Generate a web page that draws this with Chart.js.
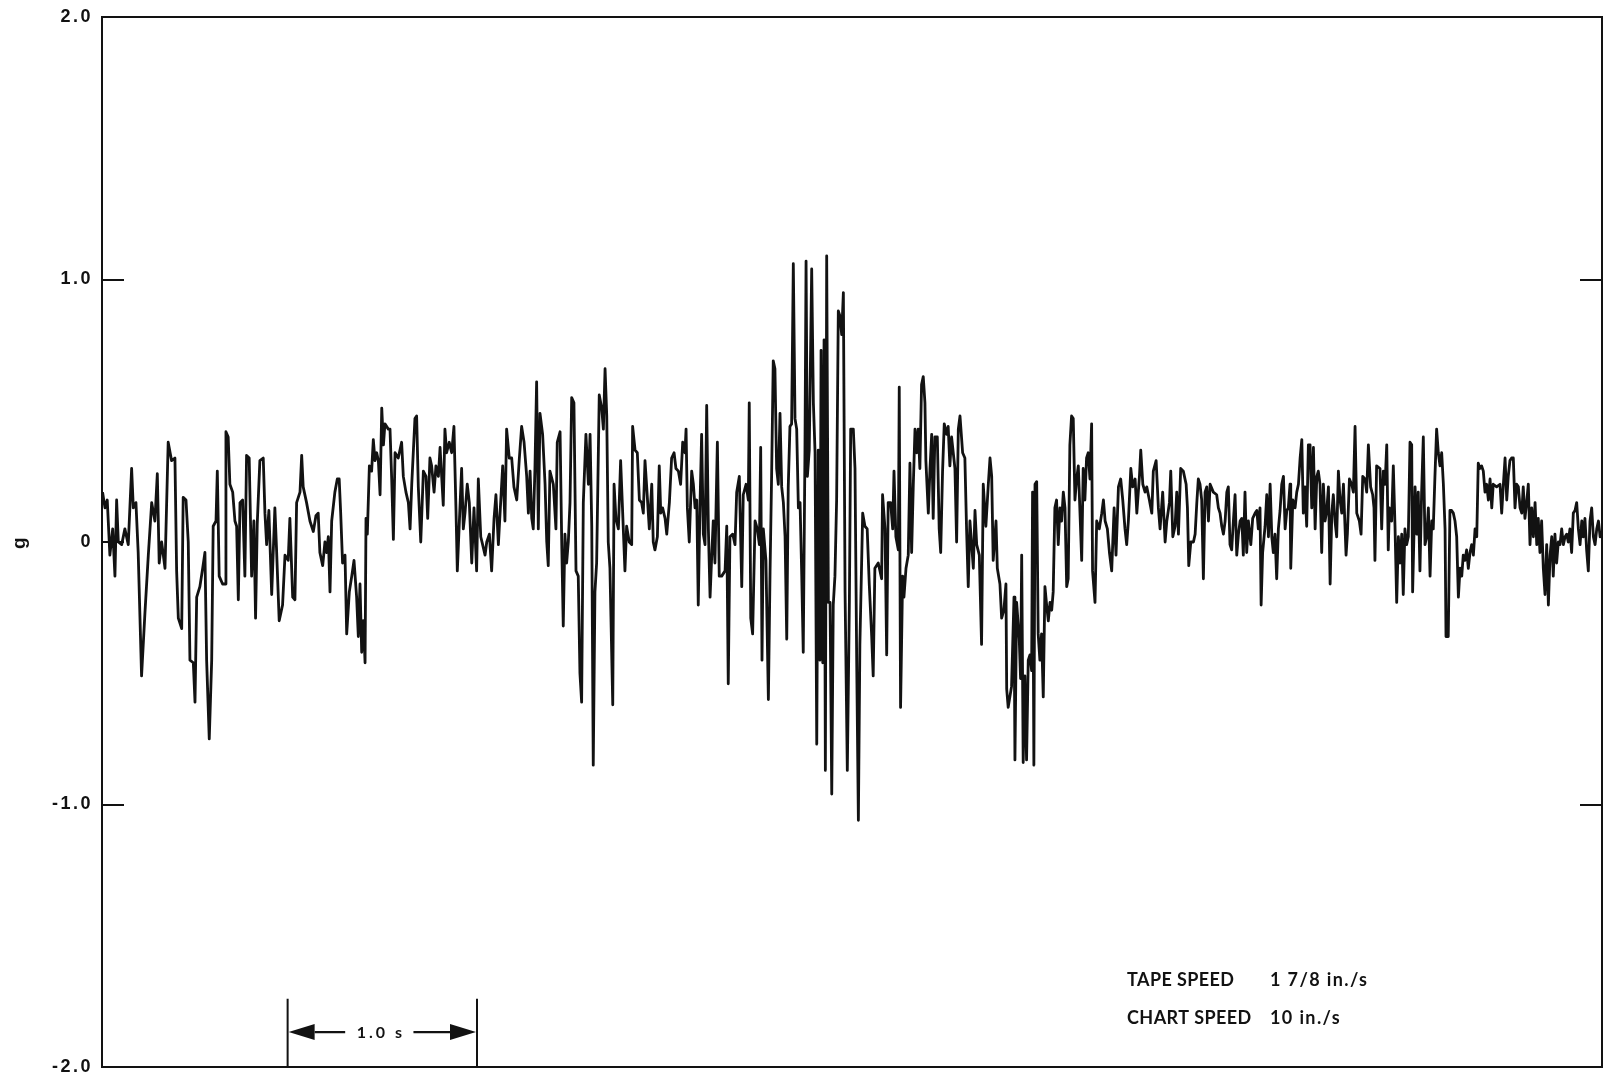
<!DOCTYPE html>
<html>
<head>
<meta charset="utf-8">
<title>Acceleration record (g)</title>
<script src="https://cdn.jsdelivr.net/npm/chart.js@4.4.1/dist/chart.umd.min.js"></script>
<style>
  html, body { margin: 0; padding: 0; background: #ffffff; }
  canvas { display: block; }
</style>
</head>
<body>
<canvas id="trace" width="1609" height="1074"></canvas>
<script>
// Acceleration trace, [time (s), acceleration (g)], split into stretches of the record.
const segA = [[0.003,0.19],[0.016,0.13],[0.028,0.16],[0.042,-0.05],[0.057,0.05],[0.069,-0.13],[0.078,0.16],[0.087,0.00],[0.105,-0.01],[0.122,0.05],[0.140,-0.01],[0.158,0.28],[0.167,0.13],[0.181,0.15],[0.193,-0.04],[0.211,-0.51],[0.229,-0.27],[0.247,-0.05],[0.265,0.15],[0.282,0.08],[0.295,0.26],[0.305,-0.08],[0.318,0.00],[0.336,-0.10],[0.353,0.38],[0.371,0.31],[0.389,0.32],[0.398,-0.11],[0.407,-0.29],[0.425,-0.33],[0.433,0.17],[0.448,0.16],[0.460,0.00],[0.469,-0.45],[0.487,-0.46],[0.496,-0.61],[0.505,-0.21],[0.522,-0.17],[0.537,-0.10],[0.549,-0.04],[0.558,-0.45],[0.572,-0.75],[0.585,-0.45],[0.593,0.06],[0.608,0.08],[0.615,0.27],[0.625,-0.13],[0.643,-0.16],[0.656,-0.16],[0.661,0.42],[0.673,0.40],[0.682,0.22],[0.697,0.19],[0.709,0.08],[0.718,0.06],[0.727,-0.22],[0.736,0.15],[0.750,0.16],[0.762,-0.13],[0.771,0.33],[0.785,0.32],[0.798,-0.13],[0.810,0.08],[0.819,-0.29],[0.828,0.07],[0.842,0.31],[0.860,0.32],[0.869,0.11],[0.878,-0.01],[0.890,0.12],[0.905,-0.20],[0.922,0.13],[0.931,-0.03],[0.945,-0.30],[0.963,-0.24],[0.976,-0.05],[0.993,-0.07],[1.002,0.09],[1.017,-0.21],[1.029,-0.22],[1.038,0.15],[1.056,0.19],[1.065,0.33],[1.073,0.21],[1.091,0.15],[1.109,0.08],[1.127,0.04],[1.141,0.10],[1.153,0.11],[1.162,-0.04],[1.177,-0.09],[1.189,0.00],[1.198,-0.04],[1.207,0.02],[1.216,-0.19],[1.225,0.08],[1.242,0.19],[1.255,0.24],[1.265,0.24],[1.273,0.11],[1.283,-0.08],[1.296,-0.05],[1.305,-0.35],[1.319,-0.19]];

const segB = [[1.332,-0.13],[1.344,-0.07],[1.358,-0.21],[1.367,-0.36],[1.376,-0.16],[1.385,-0.42],[1.394,-0.30],[1.403,-0.46],[1.408,0.09],[1.415,0.03],[1.426,0.29],[1.438,0.27],[1.447,0.39],[1.456,0.31],[1.465,0.34],[1.474,0.31],[1.483,0.18],[1.492,0.51],[1.501,0.37],[1.509,0.45],[1.527,0.43],[1.536,0.43],[1.545,0.24],[1.554,0.01],[1.563,0.34],[1.580,0.32],[1.598,0.38],[1.607,0.25],[1.621,0.19],[1.634,0.15],[1.643,0.05],[1.652,0.22],[1.669,0.47],[1.678,0.48],[1.687,0.21],[1.700,0.00],[1.714,0.27],[1.728,0.25],[1.737,0.09],[1.749,0.32],[1.758,0.29],[1.771,0.19],[1.781,0.29],[1.794,0.25],[1.803,0.36],[1.820,0.14],[1.829,0.43],[1.838,0.34],[1.852,0.38],[1.865,0.34],[1.877,0.44],[1.888,0.12],[1.895,-0.11],[1.909,0.13],[1.918,0.28],[1.927,0.05],[1.936,0.11],[1.948,0.22],[1.959,0.15],[1.972,-0.08],[1.984,0.13],[1.998,-0.11],[2.007,0.24],[2.020,0.02],[2.030,-0.01],[2.043,-0.05],[2.052,0.00],[2.066,0.03],[2.078,-0.11],[2.091,0.09],[2.101,0.18],[2.114,-0.01],[2.123,0.11],[2.137,0.29],[2.149,0.08],[2.158,0.43],[2.172,0.32],[2.185,0.32],[2.197,0.21],[2.212,0.16],[2.226,0.32],[2.238,0.44],[2.251,0.38],[2.265,0.25],[2.274,0.11],[2.283,0.27],[2.292,0.09],[2.300,0.05],[2.309,0.28],[2.318,0.61],[2.327,0.05],[2.336,0.49],[2.350,0.41],[2.363,0.22],[2.372,0.00],[2.380,-0.09],[2.389,0.27],[2.407,0.22],[2.421,0.05],[2.428,0.38],[2.443,0.42],[2.452,-0.01],[2.460,-0.32],[2.469,0.03],[2.478,-0.08],[2.487,0.00],[2.496,0.15],[2.505,0.55],[2.517,0.53],[2.528,-0.11],[2.540,-0.13],[2.549,-0.50],[2.558,-0.61],[2.567,0.15],[2.581,0.41],[2.594,0.22],[2.603,0.41],[2.612,0.06],[2.620,-0.85],[2.629,-0.19],[2.638,-0.08],[2.652,0.56]];

const segC = [[2.665,0.51],[2.674,0.43],[2.683,0.66],[2.692,0.48],[2.700,0.00],[2.709,-0.10],[2.724,-0.62],[2.731,0.22],[2.741,0.09],[2.754,0.05],[2.766,0.31],[2.777,0.11],[2.789,-0.11],[2.798,0.06],[2.812,0.00],[2.825,-0.01],[2.830,0.44],[2.843,0.35],[2.855,0.34],[2.866,0.16],[2.878,0.15],[2.887,0.11],[2.896,0.31],[2.905,0.21],[2.919,0.05],[2.932,0.22],[2.940,0.00],[2.949,-0.03],[2.962,0.02],[2.972,0.29],[2.980,0.11],[2.990,0.13],[3.003,0.09],[3.012,0.03],[3.026,0.15],[3.038,0.32],[3.051,0.34],[3.061,0.28],[3.074,0.27],[3.086,0.22],[3.097,0.38],[3.109,0.34],[3.115,0.43],[3.122,0.13],[3.132,0.00],[3.145,0.27],[3.154,0.22],[3.163,0.13],[3.172,0.16],[3.180,-0.24],[3.189,0.13],[3.198,0.41],[3.207,0.03],[3.216,-0.01],[3.225,0.52],[3.234,0.05],[3.243,-0.21],[3.252,-0.05],[3.260,0.08],[3.269,-0.08],[3.282,0.38],[3.292,-0.13],[3.305,-0.13],[3.323,-0.11],[3.332,0.06],[3.340,-0.54],[3.349,0.02],[3.364,0.03],[3.376,-0.01],[3.385,0.19],[3.399,0.25],[3.412,-0.17],[3.420,0.18],[3.435,0.22],[3.447,0.16],[3.452,0.53],[3.460,-0.29],[3.470,-0.35],[3.483,0.08],[3.495,0.05],[3.506,-0.01],[3.513,0.36],[3.520,-0.45],[3.527,0.05],[3.541,-0.07],[3.554,-0.60],[3.563,-0.11],[3.571,0.24],[3.580,0.69],[3.589,0.66],[3.598,0.28],[3.607,0.22],[3.616,0.49],[3.625,0.21],[3.634,0.15],[3.643,0.02],[3.652,-0.37],[3.660,0.21],[3.669,0.44],[3.678,0.45],[3.687,1.06],[3.696,0.47],[3.705,0.43],[3.714,0.13],[3.723,0.15],[3.732,-0.13],[3.740,-0.42],[3.749,0.34],[3.755,1.07],[3.762,0.25],[3.772,0.35],[3.785,1.04],[3.794,0.53],[3.803,0.34],[3.812,-0.77],[3.820,0.35],[3.829,-0.45],[3.835,0.73],[3.844,-0.46],[3.851,0.77],[3.858,-0.87],[3.865,1.09],[3.874,-0.23],[3.883,-0.23],[3.892,-0.96],[3.900,-0.24],[3.909,-0.13],[3.918,0.16],[3.927,0.88],[3.936,0.86],[3.945,0.79],[3.954,0.95],[3.963,-0.19],[3.975,-0.87],[3.986,-0.23],[3.993,0.43],[4.007,0.43],[4.016,0.28],[4.025,-0.45],[4.034,-1.06]];

const segD = [[4.042,-0.39],[4.057,0.11],[4.069,0.06],[4.081,0.05],[4.092,-0.16],[4.105,-0.36],[4.113,-0.51],[4.122,-0.10],[4.140,-0.08],[4.158,-0.14],[4.163,0.18],[4.176,0.05],[4.185,-0.43],[4.193,0.15],[4.206,0.15],[4.217,0.05],[4.224,0.27],[4.234,0.02],[4.247,-0.03],[4.252,0.59],[4.259,-0.63],[4.270,-0.13],[4.277,-0.21],[4.288,-0.10],[4.300,-0.05],[4.309,0.30],[4.318,-0.04],[4.327,0.22],[4.336,0.43],[4.345,0.34],[4.353,0.43],[4.362,0.28],[4.371,0.60],[4.380,0.63],[4.389,0.53],[4.394,0.31],[4.407,0.11],[4.416,0.28],[4.425,0.41],[4.433,0.09],[4.442,0.40],[4.455,0.40],[4.465,0.05],[4.473,-0.04],[4.483,0.27],[4.492,0.45],[4.505,0.41],[4.513,0.44],[4.522,0.29],[4.531,0.40],[4.540,0.34],[4.549,0.28],[4.558,0.00],[4.567,0.43],[4.576,0.48],[4.590,0.34],[4.602,0.32],[4.611,0.05],[4.620,-0.17],[4.629,0.08],[4.638,-0.01],[4.647,-0.10],[4.656,0.12],[4.665,-0.01],[4.679,-0.05],[4.691,-0.39],[4.700,0.22],[4.714,0.06],[4.727,0.22],[4.736,0.32],[4.745,0.25],[4.753,-0.07],[4.768,0.08],[4.775,-0.10],[4.789,-0.16],[4.798,-0.29],[4.810,-0.26],[4.821,-0.16],[4.825,-0.56],[4.833,-0.63],[4.851,-0.55],[4.864,-0.21],[4.869,-0.83],[4.878,-0.23],[4.892,-0.37],[4.899,-0.52],[4.905,-0.05],[4.913,-0.84],[4.922,-0.51],[4.931,-0.83],[4.940,-0.45],[4.949,-0.43],[4.958,-0.49],[4.963,0.19],[4.970,-0.85],[4.976,0.22],[4.985,0.23],[4.993,-0.35],[5.002,-0.45],[5.011,-0.35],[5.020,-0.59],[5.029,-0.17],[5.038,-0.24],[5.047,-0.30],[5.056,-0.23],[5.065,-0.26],[5.073,-0.19],[5.082,0.13],[5.091,0.16],[5.100,-0.01],[5.109,0.13],[5.118,0.08],[5.127,0.19],[5.136,0.13],[5.145,-0.17],[5.153,-0.14],[5.162,0.37],[5.171,0.48],[5.180,0.47],[5.189,0.16],[5.198,0.24],[5.207,0.29],[5.216,0.11],[5.225,-0.07],[5.233,0.28],[5.242,0.16],[5.251,0.32],[5.260,0.34],[5.269,0.24],[5.278,0.45],[5.283,-0.11],[5.296,-0.23],[5.305,0.08],[5.319,0.05]];

const segE = [[5.332,0.11],[5.341,0.16],[5.350,0.08],[5.362,0.05],[5.373,-0.04],[5.385,-0.11],[5.398,0.13],[5.408,-0.05],[5.421,0.21],[5.433,0.24],[5.444,0.16],[5.456,0.05],[5.465,-0.01],[5.474,0.08],[5.487,0.28],[5.497,0.21],[5.510,0.24],[5.519,0.11],[5.533,0.25],[5.540,0.35],[5.551,0.22],[5.563,0.19],[5.572,0.21],[5.586,0.16],[5.599,0.11],[5.607,0.27],[5.622,0.31],[5.634,0.13],[5.643,0.05],[5.657,0.19],[5.670,0.00],[5.679,0.08],[5.693,0.15],[5.700,0.27],[5.711,0.02],[5.723,0.06],[5.732,0.19],[5.741,0.03],[5.753,0.28],[5.767,0.27],[5.782,0.22],[5.789,0.13],[5.796,-0.09],[5.807,0.00],[5.821,0.00],[5.830,0.03],[5.839,0.15],[5.847,0.24],[5.856,0.22],[5.865,0.16],[5.874,-0.14],[5.883,0.19],[5.892,0.21],[5.901,0.08],[5.910,0.22],[5.927,0.19],[5.945,0.18],[5.954,0.13],[5.963,0.11],[5.972,0.06],[5.981,0.03],[5.990,0.08],[5.999,0.19],[6.007,0.21],[6.016,-0.01],[6.025,-0.03],[6.034,0.08],[6.043,0.18],[6.052,-0.05],[6.061,0.03],[6.070,0.08],[6.079,0.09],[6.087,-0.05],[6.096,0.19],[6.105,-0.04],[6.114,0.08],[6.127,-0.01],[6.137,0.09],[6.150,0.11],[6.159,0.12],[6.167,0.05],[6.176,0.13],[6.182,-0.24],[6.190,-0.04],[6.203,0.06],[6.212,0.18],[6.221,0.02],[6.230,0.22],[6.239,0.02],[6.247,-0.04],[6.256,0.03],[6.265,-0.14],[6.274,0.05],[6.283,0.12],[6.292,0.22],[6.301,0.25],[6.310,0.05],[6.319,0.12],[6.327,0.13],[6.336,0.22],[6.340,-0.10],[6.351,0.16],[6.363,0.13],[6.372,0.19],[6.381,0.22],[6.390,0.32],[6.399,0.39],[6.407,0.11],[6.416,0.21],[6.425,0.06],[6.434,0.37],[6.443,0.37],[6.452,0.13],[6.461,0.36],[6.470,0.05],[6.479,0.25],[6.487,0.27],[6.496,0.22],[6.505,-0.04],[6.514,0.22],[6.523,0.08],[6.532,0.12],[6.541,0.21],[6.550,-0.16],[6.559,0.11],[6.567,0.18],[6.576,0.08],[6.585,0.02],[6.594,0.27],[6.603,0.16],[6.612,0.11],[6.621,0.22],[6.635,-0.05],[6.642,0.03],[6.653,0.24]];

const segF = [[6.665,0.22],[6.674,0.19],[6.683,0.44],[6.692,0.11],[6.706,0.08],[6.715,0.03],[6.724,0.25],[6.736,0.24],[6.745,0.19],[6.754,0.37],[6.766,0.21],[6.777,0.18],[6.784,0.13],[6.789,-0.07],[6.798,0.29],[6.816,0.28],[6.825,0.05],[6.834,0.27],[6.843,0.22],[6.852,0.37],[6.860,-0.03],[6.866,0.13],[6.878,0.08],[6.887,0.29],[6.896,0.06],[6.905,-0.23],[6.914,0.02],[6.923,-0.08],[6.932,0.03],[6.940,-0.20],[6.949,0.05],[6.958,-0.01],[6.967,0.02],[6.976,0.38],[6.985,0.37],[6.990,-0.19],[7.003,0.21],[7.012,0.03],[7.020,0.19],[7.029,-0.11],[7.038,0.19],[7.047,0.40],[7.056,-0.01],[7.065,0.02],[7.074,0.13],[7.083,-0.13],[7.092,0.08],[7.100,0.05],[7.109,0.25],[7.118,0.43],[7.127,0.34],[7.136,0.29],[7.145,0.34],[7.154,0.22],[7.163,0.05],[7.168,-0.36],[7.180,-0.36],[7.189,0.12],[7.198,0.12],[7.207,0.11],[7.216,0.08],[7.225,0.02],[7.234,-0.21],[7.243,-0.10],[7.252,-0.13],[7.260,-0.05],[7.269,-0.07],[7.278,-0.03],[7.287,-0.10],[7.296,-0.04],[7.305,-0.01],[7.314,-0.05],[7.323,0.05],[7.332,0.02],[7.340,0.30],[7.349,0.28],[7.358,0.29],[7.367,0.27],[7.376,0.19],[7.385,0.22],[7.394,0.16],[7.403,0.24],[7.412,0.13],[7.420,0.22],[7.438,0.21],[7.456,0.22],[7.465,0.11],[7.474,0.22],[7.483,0.32],[7.492,0.16],[7.500,0.25],[7.509,0.31],[7.518,0.32],[7.527,0.32],[7.536,0.13],[7.545,0.22],[7.554,0.21],[7.563,0.13],[7.572,0.11],[7.580,0.21],[7.589,0.09],[7.598,0.15],[7.607,0.22],[7.616,-0.01],[7.625,0.13],[7.634,0.02],[7.643,0.15],[7.652,-0.01],[7.660,0.09],[7.669,-0.04],[7.678,0.08],[7.687,-0.10],[7.696,-0.20],[7.705,-0.01],[7.714,-0.24],[7.723,-0.05],[7.732,0.02],[7.740,-0.13],[7.749,0.03],[7.758,-0.08],[7.767,0.00],[7.776,-0.01],[7.785,0.05],[7.794,-0.01],[7.803,0.02],[7.812,0.03],[7.820,0.00],[7.829,0.05],[7.838,-0.04],[7.847,0.11],[7.856,0.12],[7.865,0.15],[7.874,0.05],[7.883,-0.01],[7.892,0.08],[7.900,0.02],[7.909,0.09],[7.918,-0.03],[7.927,-0.11],[7.936,0.08],[7.945,0.13],[7.954,0.02],[7.963,-0.01],[7.972,0.05],[7.981,0.08],[7.990,0.02],[7.998,0.03]];

// Axis range and tick labels (g)
const gTicks = [-2, -1, 0, 1, 2];
const gTickLabels = ['-2.0', '-1.0', '0', '1.0', '2.0'];
const timeRange = [0, 8];

// Annotation text
const speedNotes = [['TAPE SPEED', '1 7/8 in./s'], ['CHART SPEED', '10 in./s']];
const timeBarLabel = '1.0 s';

const points = [segA, segB, segC, segD, segE, segF].flat().map(([t, g]) => ({ x: t, y: g }));

const INK = '#121212';

// Frame, inward tick marks, and letter spacing for the axis numerals
const framePlugin = {
  id: 'frame',
  beforeDraw(chart) {
    chart.ctx.letterSpacing = '2.5px';
  },
  beforeDatasetsDraw(chart) {
    chart.ctx.letterSpacing = '0px';
  },
  afterDatasetsDraw(chart) {
    const { ctx, chartArea: a, scales: { y } } = chart;
    ctx.save();
    ctx.strokeStyle = INK;
    ctx.lineWidth = 2;
    ctx.strokeRect(a.left, a.top, a.right - a.left, a.bottom - a.top);
    const len = 22;
    gTicks.forEach(v => {
      if (v <= y.min || v >= y.max) return;
      const py = Math.round(y.getPixelForValue(v));
      ctx.beginPath();
      ctx.moveTo(a.left, py);
      ctx.lineTo(a.left + len, py);
      if (v !== 0) {
        ctx.moveTo(a.right, py);
        ctx.lineTo(a.right - len, py);
      }
      ctx.stroke();
    });
    ctx.restore();
  }
};

// Recording notes and the 1-second time bar
const notesPlugin = {
  id: 'notes',
  afterDraw(chart) {
    const { ctx, scales: { x, y } } = chart;
    ctx.save();
    ctx.fillStyle = INK;
    ctx.strokeStyle = INK;
    ctx.textBaseline = 'middle';
    ctx.textAlign = 'left';

    // speed notes
    ctx.font = 'bold 18px Lato, "Open Sans", sans-serif';
    const colX = [x.getPixelForValue(5.467), x.getPixelForValue(6.229)];
    const rowY = [y.getPixelForValue(-1.669), y.getPixelForValue(-1.813)];
    speedNotes.forEach((row, i) => {
      ctx.letterSpacing = '0.4px';
      ctx.fillText(row[0], colX[0], rowY[i]);
      ctx.letterSpacing = '1.4px';
      ctx.fillText(row[1], colX[1], rowY[i]);
    });

    // time bar: one second between the two end marks
    const x0 = x.getPixelForValue(0.99);
    const x1 = x.getPixelForValue(2.0);
    const yMid = y.getPixelForValue(-1.867);
    const yTop = y.getPixelForValue(-1.74);
    const yBot = y.getPixelForValue(-2.0);
    ctx.lineWidth = 2;
    ctx.beginPath();
    ctx.moveTo(x0, yTop); ctx.lineTo(x0, yBot);
    ctx.moveTo(x1, yTop); ctx.lineTo(x1, yBot);
    ctx.stroke();

    ctx.font = 'bold 16px Lato, "Open Sans", sans-serif';
    ctx.letterSpacing = '3px';
    const w = ctx.measureText(timeBarLabel).width;
    const cx = (x0 + x1) / 2 - 3;
    const gap = 10;
    ctx.fillText(timeBarLabel, cx - w / 2 + 1.5, yMid + 1);

    const head = 27, half = 8;
    ctx.lineWidth = 2.4;
    ctx.beginPath();
    ctx.moveTo(x0 + head, yMid); ctx.lineTo(cx - w / 2 - gap, yMid);
    ctx.moveTo(cx + w / 2 + gap, yMid); ctx.lineTo(x1 - head, yMid);
    ctx.stroke();
    ctx.beginPath();
    ctx.moveTo(x0 + 1, yMid); ctx.lineTo(x0 + head, yMid - half); ctx.lineTo(x0 + head, yMid + half);
    ctx.closePath(); ctx.fill();
    ctx.beginPath();
    ctx.moveTo(x1 - 1, yMid); ctx.lineTo(x1 - head, yMid - half); ctx.lineTo(x1 - head, yMid + half);
    ctx.closePath(); ctx.fill();
    ctx.restore();
  }
};

new Chart(document.getElementById('trace'), {
  type: 'line',
  data: {
    datasets: [{
      data: points,
      borderColor: INK,
      borderWidth: 2.8,
      pointRadius: 0,
      tension: 0,
      borderJoinStyle: 'round',
      fill: false
    }]
  },
  options: {
    responsive: false,
    animation: false,
    events: [],
    layout: { padding: { left: 0, top: 17, right: 7, bottom: 7 } },
    plugins: { legend: { display: false }, tooltip: { enabled: false } },
    scales: {
      x: { type: 'linear', min: timeRange[0], max: timeRange[1], display: false },
      y: {
        min: gTicks[0],
        max: gTicks[gTicks.length - 1],
        afterFit: s => { s.width = 102; s.paddingTop = 0; s.paddingBottom = 0; },
        afterBuildTicks: s => { s.ticks = gTicks.map(v => ({ value: v })); },
        ticks: {
          padding: 9,
          color: INK,
          font: { family: '"Liberation Sans", Arial, sans-serif', size: 18, weight: 'bold' },
          callback: v => gTickLabels[gTicks.indexOf(v)]
        },
        grid: { display: false, drawTicks: false },
        border: { display: false },
        title: {
          display: true,
          text: 'g',
          color: INK,
          font: { family: '"Liberation Sans", Arial, sans-serif', size: 19, weight: 'bold' },
          padding: { top: 8, bottom: 0 }
        }
      }
    }
  },
  plugins: [framePlugin, notesPlugin]
});
</script>
</body>
</html>
